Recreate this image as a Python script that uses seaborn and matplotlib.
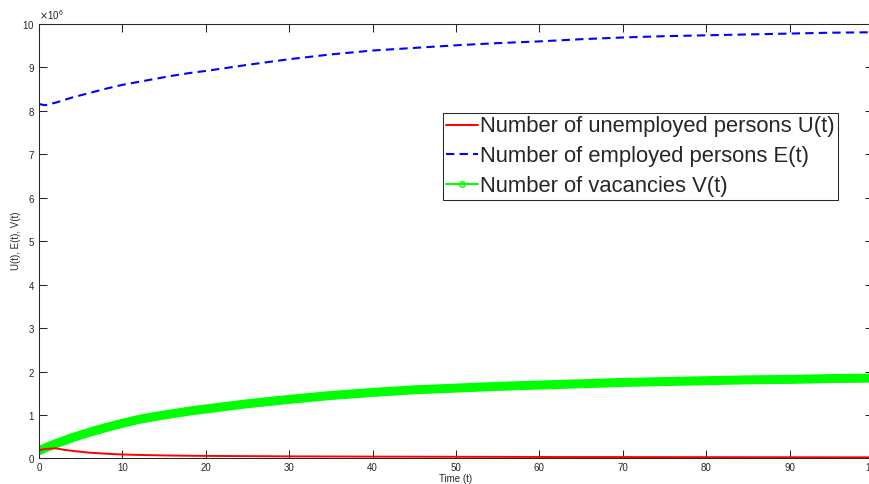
import numpy as np
import pandas as pd
import seaborn as sns
import matplotlib.pyplot as plt
from matplotlib.lines import Line2D

# values (units: persons)
t = [0, 0.7, 2, 3, 4, 5, 6, 8, 10, 12, 14, 16, 18, 20, 25, 30, 35, 40, 45, 50,
     55, 60, 65, 70, 75, 80, 85, 90, 95, 100]
U = [0.19, 0.22, 0.235, 0.20, 0.175, 0.155, 0.135, 0.11, 0.092, 0.082, 0.074, 0.068, 0.063, 0.060,
     0.054, 0.049, 0.046, 0.043, 0.041, 0.039, 0.037, 0.035, 0.034, 0.033, 0.032, 0.031, 0.030,
     0.029, 0.028, 0.027]
E = [8.16, 8.13, 8.19, 8.25, 8.31, 8.36, 8.41, 8.51, 8.60, 8.67, 8.74, 8.81, 8.87, 8.92,
     9.06, 9.19, 9.30, 9.39, 9.45, 9.51, 9.56, 9.60, 9.65, 9.69, 9.72, 9.74, 9.76, 9.78, 9.80, 9.81]
V = [0.18, 0.24, 0.34, 0.41, 0.48, 0.54, 0.60, 0.71, 0.81, 0.90, 0.97, 1.03, 1.09, 1.14,
     1.26, 1.36, 1.45, 1.52, 1.58, 1.62, 1.66, 1.69, 1.72, 1.75, 1.77, 1.79, 1.81, 1.82, 1.84, 1.85]
labels = ["Number of unemployed persons U(t)", "Number of employed persons E(t)",
          "Number of vacancies V(t)"]

df = pd.DataFrame({"t": t, "U": np.array(U) * 1e6, "E": np.array(E) * 1e6, "V": np.array(V) * 1e6})

sns.set_style("ticks")
plt.rcParams['font.family'] = ['Liberation Sans', 'DejaVu Sans']
fg = "#262626"

fig = plt.figure(figsize=(8.69, 4.84), dpi=100)
ax = fig.add_axes([0.0449, 0.0527, 0.9597, 0.8977])

sns.lineplot(data=df, x="t", y="V", ax=ax, color="#00FF00", lw=6.5, solid_capstyle="round")
sns.lineplot(data=df, x="t", y="U", ax=ax, color="#FF0000", lw=1.4)
sns.lineplot(data=df, x="t", y="E", ax=ax, color="#0000FF", lw=1.5)
ax.lines[-1].set_linestyle((0, (4, 2.5)))

ax.set_xlim(0, 100)
ax.set_ylim(0, 1e7)
ax.set_xticks(np.arange(0, 101, 10))
ax.set_yticks(np.arange(0, 1.01e7, 1e6))
ax.ticklabel_format(axis="y", style="sci", scilimits=(6, 6), useMathText=True)
ax.yaxis.get_offset_text().set_fontsize(7)
ax.yaxis.get_offset_text().set_color(fg)

ax.tick_params(direction="in", length=6, width=0.75, labelsize=7, colors=fg,
               top=True, right=True, pad=3)
for s in ax.spines.values():
    s.set_visible(True)
    s.set_color(fg)
    s.set_linewidth(0.75)

ax.set_xlabel("Time (t)", fontsize=7, color=fg, labelpad=1)
ax.set_ylabel("U(t), E(t), V(t)", fontsize=7, color=fg, labelpad=1)

handles = [Line2D([], [], color="#FF0000", lw=1.4),
           Line2D([], [], color="#0000FF", lw=1.5, linestyle=(0, (4, 2.5))),
           Line2D([], [], color="#00FF00", lw=1.5, marker="o", markersize=4,
                  markerfacecolor="none", markeredgewidth=1)]
leg = ax.legend(handles, labels, loc="upper left", bbox_to_anchor=(0.4844, 0.795),
                borderaxespad=0, fontsize=15.8, handlelength=1.45, handletextpad=0.08,
                labelspacing=0.4, borderpad=0.15, fancybox=False, framealpha=1)
leg.get_frame().set_edgecolor(fg)
leg.get_frame().set_linewidth(0.75)

fig.savefig("out.png", dpi=100)
